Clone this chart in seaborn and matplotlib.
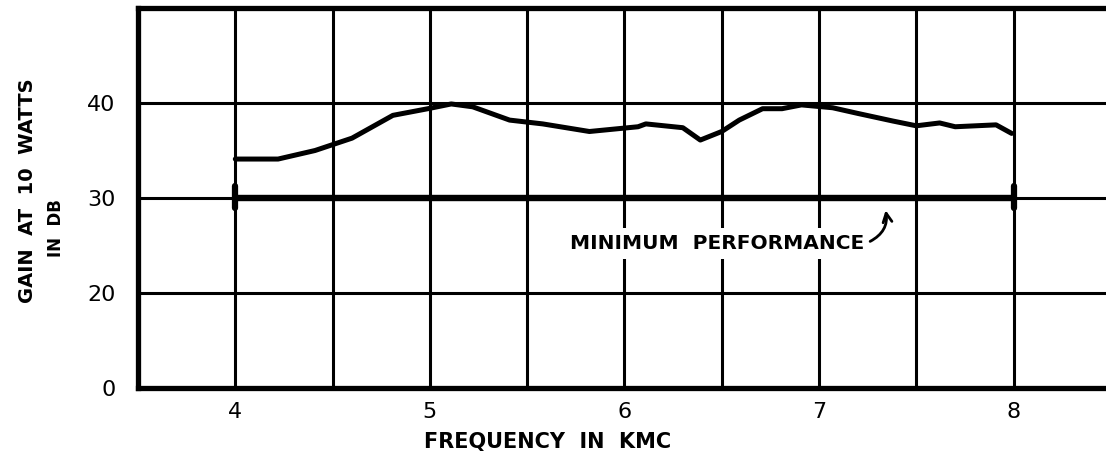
import matplotlib
matplotlib.use("Agg")
import matplotlib.pyplot as plt
import seaborn as sns
import pandas as pd
import numpy as np

# ---- data ----
freq_kmc = [4.00, 4.22, 4.41, 4.60, 4.81, 4.99, 5.11, 5.22, 5.41, 5.58, 5.82,
            6.07, 6.11, 6.30, 6.39, 6.50, 6.59, 6.71, 6.81, 6.91, 7.07, 7.20,
            7.38, 7.50, 7.62, 7.70, 7.91, 7.99]
gain_db = [34.1, 34.1, 35.0, 36.3, 38.7, 39.4, 39.9, 39.6, 38.2, 37.8, 37.0,
           37.5, 37.8, 37.4, 36.1, 37.0, 38.2, 39.4, 39.4, 39.8, 39.5, 38.9,
           38.1, 37.6, 37.9, 37.5, 37.7, 36.8]
min_freq = [4.0, 8.0]
min_gain = [30.0, 30.0]

x_ticks = [4, 5, 6, 7, 8]
x_ticklabels = ["4", "5", "6", "7", "8"]
x_minor = [4.5, 5.5, 6.5, 7.5]
y_ticks = [10, 20, 30, 40]          # broken axis: bottom line is labelled 0
y_ticklabels = ["0", "20", "30", "40"]

sns.set_style("white")
plt.rcParams["font.family"] = ["DejaVu Sans"]
plt.rcParams["text.color"] = "black"
plt.rcParams["xtick.color"] = "black"
plt.rcParams["ytick.color"] = "black"

fig = plt.figure(figsize=(11.06, 4.68), dpi=100)
ax = fig.add_axes([138 / 1106, 80 / 468, 968 / 1106, 380 / 468])

df_curve = pd.DataFrame({"freq": freq_kmc, "gain": gain_db})
df_min = pd.DataFrame({"freq": min_freq, "gain": min_gain})

sns.lineplot(data=df_curve, x="freq", y="gain", ax=ax, color="black",
             linewidth=3.6, sort=False, solid_joinstyle="round", zorder=4)
sns.lineplot(data=df_min, x="freq", y="gain", ax=ax, color="black",
             linewidth=4.6, zorder=4)
# small end bars on the minimum-performance line
for fx in min_freq:
    ax.plot([fx, fx], [28.9, 31.3], color="black", linewidth=4.5,
            solid_capstyle="round", zorder=4)

ax.set_xlim(3.5, 8.475)
ax.set_ylim(10, 50)
ax.set_xticks(x_ticks)
ax.set_xticklabels(x_ticklabels)
ax.set_xticks(x_minor, minor=True)
ax.set_yticks(y_ticks)
ax.set_yticklabels(y_ticklabels)
ax.tick_params(axis="both", which="both", length=0, colors="black")
ax.tick_params(axis="x", labelsize=16, pad=10)
ax.tick_params(axis="y", labelsize=16, pad=16)

ax.grid(True, which="both", color="black", linewidth=2.2)
ax.set_axisbelow(True)

for side in ["left", "top", "bottom"]:
    ax.spines[side].set_visible(True)
    ax.spines[side].set_color("black")
    ax.spines[side].set_linewidth(3.8)
ax.spines["right"].set_visible(False)

ax.set_xlabel("")
ax.set_ylabel("")

fig.text(548 / 1106, 1 - 442 / 468, "FREQUENCY  IN  KMC", ha="center", va="center",
         fontsize=15, fontweight="bold", color="black")
fig.text(28 / 1106, 1 - 191 / 468, "GAIN  AT  10  WATTS", ha="center", va="center",
         rotation=90, fontsize=14, fontweight="bold", color="black")
fig.text(56 / 1106, 1 - 228 / 468, "IN  DB", ha="center", va="center",
         rotation=90, fontsize=12, fontweight="bold", color="black")

ax.text(7.23, 25.2, "MINIMUM  PERFORMANCE", ha="right", va="center",
        fontsize=14.5, fontweight="bold", zorder=5, color="black",
        bbox=dict(facecolor="white", edgecolor="none", pad=4))
ax.annotate("", xy=(7.34, 29.0), xytext=(7.25, 25.3),
            arrowprops=dict(arrowstyle="->", color="black", lw=2,
                            connectionstyle="arc3,rad=0.4", mutation_scale=16),
            zorder=5)

fig.savefig("out.png", dpi=100, facecolor="white")
